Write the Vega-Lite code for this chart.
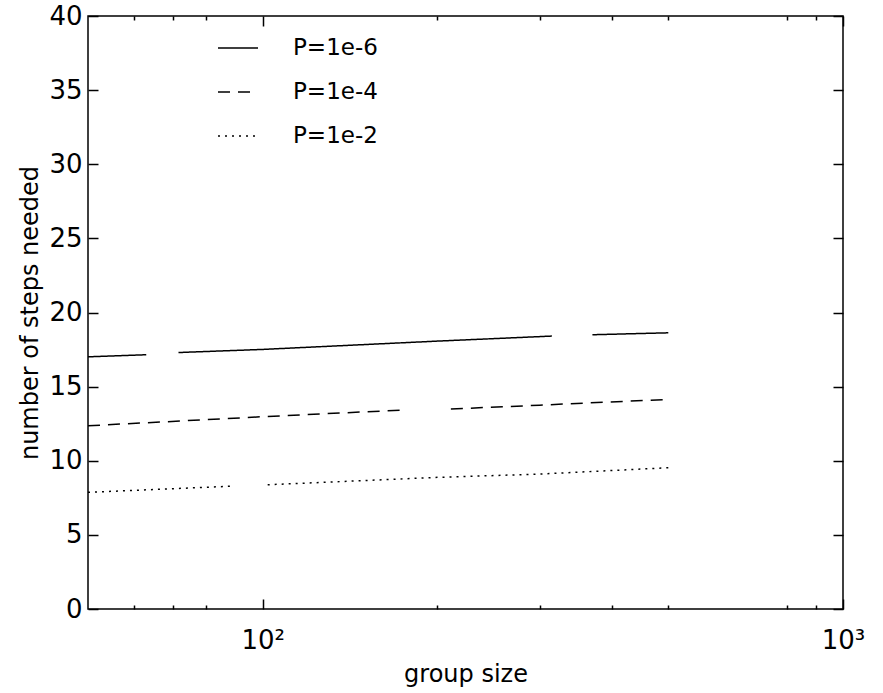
{
  "$schema": "https://vega.github.io/schema/vega-lite/v6.json",
  "width": 755,
  "height": 593,
  "autosize": "none",
  "padding": {"left": 88, "top": 16, "right": 40, "bottom": 84},
  "background": "white",
  "config": {
    "view": {"stroke": "black", "strokeWidth": 1.5},
    "font": "DejaVu Sans",
    "axis": {"grid": false, "domain": false, "tickColor": "black", "tickWidth": 1.5, "labelColor": "black", "titleColor": "black", "labelFont": "DejaVu Sans", "titleFont": "DejaVu Sans", "titleFontWeight": "normal", "labelFlush": false, "labelOverlap": false, "labelBound": false}
  },
  "data": {"values": [
    {"P": "P=1e-6", "seg": "a1", "n": 50, "steps": 17.01},
    {"P": "P=1e-6", "seg": "a1", "n": 63, "steps": 17.15},
    {"P": "P=1e-6", "seg": "a2", "n": 71.6, "steps": 17.3},
    {"P": "P=1e-6", "seg": "a2", "n": 100, "steps": 17.51},
    {"P": "P=1e-6", "seg": "a2", "n": 200, "steps": 18.07},
    {"P": "P=1e-6", "seg": "a2", "n": 315, "steps": 18.41},
    {"P": "P=1e-6", "seg": "a3", "n": 370, "steps": 18.5},
    {"P": "P=1e-6", "seg": "a3", "n": 500, "steps": 18.63},
    {"P": "P=1e-4", "seg": "b1", "n": 50, "steps": 12.36},
    {"P": "P=1e-4", "seg": "b1", "n": 100, "steps": 12.97},
    {"P": "P=1e-4", "seg": "b1", "n": 174, "steps": 13.42},
    {"P": "P=1e-4", "seg": "b2", "n": 211, "steps": 13.49},
    {"P": "P=1e-4", "seg": "b2", "n": 300, "steps": 13.75},
    {"P": "P=1e-4", "seg": "b2", "n": 500, "steps": 14.14},
    {"P": "P=1e-2", "seg": "c1", "n": 50, "steps": 7.87},
    {"P": "P=1e-2", "seg": "c1", "n": 89, "steps": 8.29},
    {"P": "P=1e-2", "seg": "c2", "n": 102, "steps": 8.38},
    {"P": "P=1e-2", "seg": "c2", "n": 200, "steps": 8.88},
    {"P": "P=1e-2", "seg": "c2", "n": 300, "steps": 9.1},
    {"P": "P=1e-2", "seg": "c2", "n": 500, "steps": 9.53}
  ]},
  "layer": [
    {
      "mark": {"type": "line", "color": "black", "strokeWidth": 1.5},
      "encoding": {
        "x": {"field": "n", "type": "quantitative", "scale": {"type": "log", "domain": [50, 1000], "nice": false},
          "axis": {"orient": "bottom", "title": "group size", "titleFontSize": 24, "titlePadding": 3,
            "values": [60, 70, 80, 100, 200, 300, 400, 500, 800, 900, 1000],
            "tickSize": {"condition": {"test": "datum.value == 100 || datum.value == 1000", "value": -10}, "value": -4},
            "labelPadding": 28, "labelFontSize": 26,
            "labelExpr": "datum.value == 100 ? '10²' : datum.value == 1000 ? '10³' : ''"}},
        "y": {"field": "steps", "type": "quantitative", "scale": {"domain": [0, 40], "nice": false},
          "axis": {"orient": "left", "title": "number of steps needed", "titleFontSize": 24, "titlePadding": 6,
            "values": [0, 5, 10, 15, 20, 25, 30, 35, 40], "tickSize": -10, "labelPadding": 16, "labelFontSize": 26}},
        "detail": {"field": "seg"},
        "strokeDash": {"field": "P", "type": "nominal",
          "scale": {"domain": ["P=1e-6", "P=1e-4", "P=1e-2"], "range": [[1, 0], [12, 8], [2, 5]]},
          "legend": {"title": null, "orient": "none", "legendX": 129, "legendY": 11, "symbolType": "stroke", "symbolSize": 1600, "symbolStrokeColor": "black", "symbolStrokeWidth": 1.5, "labelFontSize": 23, "labelFont": "DejaVu Sans", "labelColor": "black", "labelOffset": 34, "rowPadding": 11}}
      }
    },
    {
      "mark": {"type": "line", "strokeOpacity": 0},
      "encoding": {
        "x": {"field": "n", "type": "quantitative", "scale": {"type": "log", "domain": [50, 1000], "nice": false},
          "axis": {"orient": "top", "title": null, "labels": false,
            "values": [60, 70, 80, 100, 200, 300, 400, 500, 800, 900, 1000],
            "tickSize": {"condition": {"test": "datum.value == 100 || datum.value == 1000", "value": -10}, "value": -4}}},
        "y": {"field": "steps", "type": "quantitative", "scale": {"domain": [0, 40], "nice": false},
          "axis": {"orient": "right", "title": null, "labels": false, "values": [0, 5, 10, 15, 20, 25, 30, 35, 40], "tickSize": -10}},
        "detail": {"field": "seg"}
      }
    }
  ],
  "resolve": {"axis": {"x": "independent", "y": "independent"}}
}
